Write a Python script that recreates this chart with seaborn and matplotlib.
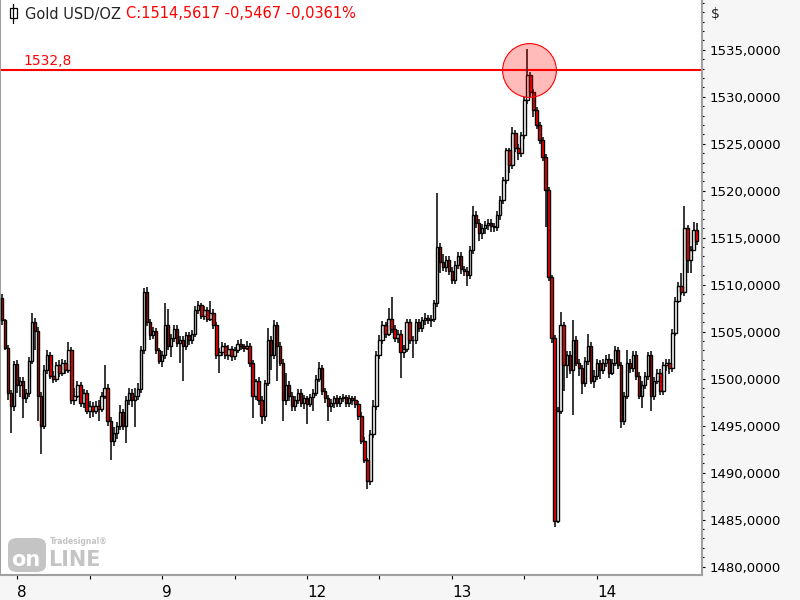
import numpy as np
import matplotlib
matplotlib.use("Agg")
import matplotlib.pyplot as plt
from matplotlib.ticker import MultipleLocator, FixedLocator
from matplotlib.patches import FancyBboxPatch
import matplotlib.transforms as mtransforms
import seaborn as sns

# 30-minute gold bars
first_open = 1508.6
closes = [
    1506.2, 1503.3, 1498.5, 1497.1, 1501.6, 1499.3, 1499.8, 1497.9, 1498.5, 1501.9,
    1506.0, 1505.1, 1498.2, 1495.0, 1500.9, 1502.5, 1500.3, 1500.0, 1501.4, 1500.6,
    1501.7, 1500.9, 1503.0, 1497.7, 1498.2, 1499.3, 1497.4, 1498.5, 1496.6, 1497.1,
    1496.6, 1497.1, 1496.8, 1498.2, 1499.0, 1495.5, 1493.4, 1494.2, 1495.0, 1496.4,
    1495.0, 1497.7, 1498.5, 1497.7, 1498.2, 1498.9, 1503.0, 1509.2, 1506.0, 1504.6,
    1505.1, 1503.0, 1501.9, 1502.5, 1505.7, 1503.5, 1504.3, 1505.3, 1503.8, 1504.1,
    1503.5, 1504.6, 1504.1, 1504.8, 1507.3, 1507.8, 1506.7, 1507.3, 1506.4, 1507.0,
    1505.7, 1502.5, 1502.8, 1503.5, 1502.5, 1503.2, 1502.4, 1503.0, 1503.7, 1503.5,
    1503.3, 1503.5, 1501.7, 1498.2, 1499.8, 1497.7, 1496.0, 1499.5, 1504.1, 1502.5,
    1505.7, 1503.5, 1501.7, 1497.7, 1499.3, 1498.2, 1497.1, 1497.7, 1498.5, 1497.4,
    1497.9, 1497.3, 1498.0, 1498.5, 1500.0, 1501.1, 1498.7, 1497.9, 1497.1, 1497.4,
    1497.9, 1497.4, 1497.9, 1498.0, 1497.4, 1497.9, 1497.7, 1497.3, 1496.0, 1493.4,
    1491.3, 1489.1, 1494.1, 1497.1, 1502.5, 1504.1, 1505.7, 1504.8, 1506.4, 1505.3,
    1504.3, 1504.8, 1502.8, 1503.2, 1506.0, 1504.1, 1504.1, 1506.0, 1505.4, 1506.2,
    1506.5, 1506.2, 1506.4, 1508.0, 1514.0, 1512.4, 1511.9, 1512.6, 1511.5, 1510.5,
    1512.1, 1513.1, 1511.7, 1511.5, 1511.0, 1513.7, 1517.4, 1516.6, 1515.5, 1516.0,
    1516.3, 1516.6, 1516.2, 1516.1, 1517.4, 1519.0, 1521.1, 1524.3, 1522.7, 1526.1,
    1524.5, 1524.0, 1525.9, 1529.7, 1532.3, 1530.5, 1528.6, 1527.0, 1525.4, 1523.6,
    1520.1, 1510.8, 1504.3, 1484.9, 1496.6, 1505.7, 1501.4, 1502.5, 1500.9, 1504.1,
    1501.7, 1501.1, 1499.5, 1501.9, 1503.5, 1499.8, 1500.3, 1501.7, 1500.9, 1501.7,
    1502.1, 1500.6, 1501.7, 1503.0, 1501.4, 1495.5, 1498.2, 1501.7, 1501.1, 1502.5,
    1500.3, 1498.2, 1499.3, 1500.3, 1502.5, 1498.2, 1499.8, 1500.6, 1498.7, 1501.4,
    1501.7, 1501.1, 1504.9, 1508.3, 1509.9, 1509.2, 1516.0, 1512.6, 1513.7, 1515.8,
    1514.6,
]
highs = [
    1509.0, 1506.4, 1503.6, 1498.8, 1501.9, 1502.0, 1500.2, 1500.2, 1498.9, 1502.3,
    1507.0, 1506.5, 1505.5, 1498.6, 1501.4, 1503.0, 1502.8, 1500.8, 1501.8, 1502.0,
    1502.1, 1502.0, 1503.9, 1503.4, 1499.0, 1499.7, 1499.6, 1498.9, 1498.8, 1497.6,
    1497.5, 1497.6, 1497.7, 1498.6, 1501.4, 1499.4, 1495.9, 1494.8, 1495.4, 1497.2,
    1496.8, 1498.1, 1499.0, 1498.9, 1499.0, 1499.5, 1503.5, 1509.6, 1509.8, 1506.4,
    1505.5, 1505.4, 1503.3, 1502.9, 1508.1, 1507.4, 1504.7, 1505.7, 1505.7, 1504.5,
    1504.5, 1505.0, 1505.0, 1505.2, 1507.7, 1508.3, 1508.1, 1507.7, 1507.6, 1508.3,
    1507.4, 1506.0, 1503.3, 1503.9, 1503.8, 1503.6, 1503.5, 1503.4, 1504.1, 1504.2,
    1503.7, 1504.0, 1503.8, 1502.0, 1500.0, 1500.2, 1498.1, 1499.9, 1505.4, 1504.5,
    1506.2, 1506.0, 1503.9, 1502.1, 1500.6, 1499.7, 1498.6, 1498.1, 1498.9, 1498.9,
    1498.3, 1498.2, 1498.4, 1498.9, 1500.4, 1501.8, 1501.5, 1499.0, 1498.3, 1497.8,
    1498.2, 1498.3, 1498.2, 1498.4, 1498.3, 1498.3, 1498.2, 1498.2, 1497.6, 1496.4,
    1493.8, 1491.6, 1494.5, 1497.7, 1502.9, 1504.6, 1506.1, 1506.0, 1507.5, 1508.7,
    1505.7, 1505.2, 1505.2, 1503.6, 1506.4, 1506.4, 1504.5, 1506.4, 1506.3, 1506.6,
    1507.0, 1506.8, 1506.8, 1508.4, 1519.8, 1514.4, 1513.3, 1513.0, 1513.0, 1511.9,
    1512.5, 1513.5, 1513.5, 1512.0, 1511.9, 1514.1, 1518.4, 1517.8, 1517.0, 1516.5,
    1516.8, 1517.0, 1517.0, 1516.6, 1517.8, 1519.4, 1521.5, 1524.6, 1524.6, 1526.8,
    1526.5, 1525.0, 1526.3, 1530.0, 1535.1, 1532.6, 1530.8, 1528.9, 1527.3, 1525.7,
    1523.9, 1520.4, 1511.0, 1504.6, 1497.0, 1507.1, 1506.0, 1502.9, 1502.9, 1506.2,
    1504.5, 1502.1, 1501.5, 1502.3, 1504.8, 1503.9, 1500.9, 1502.1, 1502.0, 1502.1,
    1502.5, 1502.6, 1502.1, 1503.5, 1503.4, 1501.8, 1498.6, 1503.0, 1502.1, 1502.9,
    1502.9, 1500.7, 1499.7, 1500.7, 1502.8, 1502.9, 1500.2, 1501.0, 1501.0, 1501.8,
    1502.1, 1502.1, 1505.3, 1508.7, 1510.3, 1511.2, 1518.4, 1516.4, 1514.1, 1516.7,
    1516.6,
]
lows = [
    1505.7, 1503.0, 1497.7, 1494.2, 1496.6, 1498.5, 1498.0, 1495.8, 1497.4, 1498.0,
    1501.6, 1503.0, 1495.5, 1492.0, 1494.6, 1500.5, 1500.0, 1499.5, 1499.6, 1500.2,
    1500.3, 1500.5, 1500.6, 1497.3, 1497.2, 1497.9, 1497.0, 1496.9, 1496.2, 1495.8,
    1495.9, 1496.2, 1495.5, 1496.4, 1497.8, 1495.0, 1491.3, 1492.8, 1493.6, 1494.5,
    1494.5, 1493.1, 1497.2, 1497.0, 1494.8, 1497.7, 1498.5, 1502.6, 1505.6, 1504.1,
    1504.2, 1502.6, 1501.6, 1501.2, 1502.1, 1503.1, 1502.3, 1503.9, 1503.4, 1501.7,
    1499.8, 1503.1, 1503.6, 1503.7, 1504.4, 1506.9, 1506.3, 1506.2, 1506.0, 1506.1,
    1505.3, 1502.1, 1500.6, 1502.4, 1502.1, 1502.0, 1501.9, 1502.0, 1502.7, 1503.0,
    1502.8, 1503.0, 1501.2, 1495.8, 1497.7, 1497.2, 1495.2, 1495.5, 1499.2, 1500.9,
    1502.1, 1499.8, 1501.3, 1495.5, 1497.2, 1497.6, 1496.6, 1496.6, 1497.3, 1497.0,
    1496.8, 1495.2, 1497.0, 1496.6, 1498.1, 1499.6, 1498.3, 1497.4, 1495.5, 1496.5,
    1496.9, 1497.0, 1497.0, 1497.5, 1497.0, 1497.0, 1497.2, 1496.9, 1495.6, 1493.0,
    1491.0, 1488.3, 1488.7, 1493.7, 1496.7, 1502.1, 1503.7, 1504.3, 1504.5, 1504.9,
    1503.9, 1503.8, 1500.1, 1502.2, 1502.8, 1503.7, 1502.2, 1503.7, 1505.0, 1505.0,
    1505.7, 1505.8, 1505.5, 1506.0, 1507.6, 1511.2, 1511.5, 1511.3, 1511.0, 1510.1,
    1510.1, 1511.7, 1511.1, 1510.9, 1509.9, 1510.6, 1513.3, 1516.0, 1514.7, 1514.9,
    1515.4, 1515.8, 1515.6, 1515.6, 1515.7, 1516.9, 1518.6, 1520.7, 1521.9, 1522.3,
    1524.1, 1523.3, 1523.6, 1525.5, 1529.2, 1530.0, 1527.9, 1526.6, 1525.0, 1523.2,
    1516.1, 1510.4, 1503.8, 1484.2, 1484.6, 1496.2, 1498.7, 1500.1, 1500.5, 1496.1,
    1501.3, 1500.3, 1498.4, 1499.1, 1501.5, 1499.4, 1499.0, 1499.9, 1500.0, 1500.5,
    1501.2, 1500.1, 1500.4, 1501.3, 1501.0, 1494.7, 1495.1, 1497.8, 1500.6, 1500.7,
    1499.9, 1497.8, 1496.9, 1498.9, 1499.9, 1496.6, 1497.7, 1499.4, 1498.3, 1498.3,
    1500.8, 1500.5, 1500.7, 1504.5, 1508.0, 1508.9, 1508.8, 1511.2, 1511.2, 1514.3,
    1514.2,
]

day_labels = ["8", "9", "12", "13", "14"]
day_start_bar = [5, 53, 101, 149, 197]
midday_bar = [29, 77, 125, 173]
level = 1532.8
last_quote = 1514.5617
last_change = -0.5467
last_change_pct = -0.0361

W, H = 800, 600


def fx(px):
    return px / W


def fy(py):
    return 1 - py / H


def de(v, nd):
    return f"{v:.{nd}f}".replace(".", ",")


sns.set_style("white")
plt.rcParams["font.family"] = ["DejaVu Sans"]

fig = plt.figure(figsize=(8, 6), dpi=100, facecolor="#f6f6f6")
ax = fig.add_axes([0, fy(575), fx(702), 575 / H])
ax.set_facecolor("white")

closes = np.array(closes)
highs = np.array(highs)
lows = np.array(lows)
opens = np.concatenate([[first_open], closes[:-1]])
idx = np.arange(len(closes))
up = closes >= opens

ax.axhline(level, color="#ff0000", lw=1.5, zorder=1)

ax.vlines(idx, lows, highs, color="black", lw=1.1, zorder=2)
body_w = 0.8
ax.bar(idx[up], closes[up] - opens[up], bottom=opens[up], width=body_w,
       color="white", edgecolor="black", linewidth=1.0, zorder=3)
ax.bar(idx[~up], closes[~up] - opens[~up], bottom=opens[~up], width=body_w,
       color="#ff0000", edgecolor="black", linewidth=1.0, zorder=3)

peak = int(np.argmax(highs))
ax.scatter([peak + 0.4], [level], s=1500, facecolor=(1, 0, 0, 0.27),
           edgecolor="#ff0000", linewidth=0.8, zorder=4)

blend = mtransforms.blended_transform_factory(ax.transAxes, ax.transData)
ax.annotate(de(level, 1), xy=(23 / 702, level), xycoords=blend,
            xytext=(0, 2), textcoords="offset points",
            color="#ff0000", fontsize=10, va="bottom", ha="left")

ax.set_xlim(-0.66, 231.8)
ax.set_ylim(1479.1, 1540.3)

# y axis on the right
ax.yaxis.tick_right()
ax.yaxis.set_minor_locator(MultipleLocator(1))
yt = np.arange(1480, 1536, 5)
ax.set_yticks(yt)
ax.set_yticklabels([de(v, 4) for v in yt])
ax.tick_params(axis="y", which="major", direction="out", length=2.5, width=0.8,
               colors="black", labelsize=9.5, pad=3, left=False, right=True)
ax.tick_params(axis="y", which="minor", direction="out", length=1.6, width=0.8,
               colors="black", left=False, right=True)

# x axis: day starts and middays
ax.xaxis.set_major_locator(FixedLocator(day_start_bar))
ax.xaxis.set_minor_locator(FixedLocator(midday_bar))
ax.set_xticklabels(day_labels)
for lbl in ax.get_xticklabels():
    lbl.set_horizontalalignment("left")
ax.tick_params(axis="x", which="both", direction="out", length=3, width=0.8,
               colors="black", labelsize=11, pad=4, bottom=True)

for side in ["left", "bottom", "right"]:
    ax.spines[side].set_color("#a0a0a0")
    ax.spines[side].set_linewidth(1.5)
ax.spines["top"].set_visible(False)
ax.grid(False)

fig.text(fx(711), fy(14), "$", fontsize=10, va="center", ha="left")

# header
fig.add_artist(plt.Line2D([fx(13), fx(13)], [fy(4), fy(23)], color="black", lw=0.9))
fig.add_artist(FancyBboxPatch((fx(9.5), fy(18)), fx(7), 10 / H,
                              boxstyle="square,pad=0", facecolor="white",
                              edgecolor="black", lw=0.9, transform=fig.transFigure))
t1 = fig.text(fx(25), fy(14), "Gold USD/OZ", fontsize=10.5, va="center", ha="left")
fig.canvas.draw()
bb = t1.get_window_extent()
fig.text((bb.x1 + 5) / W, fy(14),
         f"C:{de(last_quote, 4)} {de(last_change, 4)} {de(last_change_pct, 4)}%",
         fontsize=10.5, va="center", ha="left", color="#ff0000")

# watermark logo
logo = "#c4c4c4"
fig.add_artist(FancyBboxPatch((fx(8), fy(572)), fx(38), 34 / H,
                              boxstyle="round,pad=0,rounding_size=0.012",
                              facecolor=logo, edgecolor="none",
                              transform=fig.transFigure))
fig.text(fx(11), fy(560), "on", fontsize=15, fontweight="bold", color="white",
         va="center", ha="left")
fig.text(fx(48), fy(560), "LINE", fontsize=15, fontweight="bold", color=logo,
         va="center", ha="left")
fig.text(fx(50), fy(542), "Tradesignal\u00ae", fontsize=5.5, fontweight="bold",
         color=logo, va="center", ha="left")

fig.savefig("out.png", dpi=100, facecolor=fig.get_facecolor())
